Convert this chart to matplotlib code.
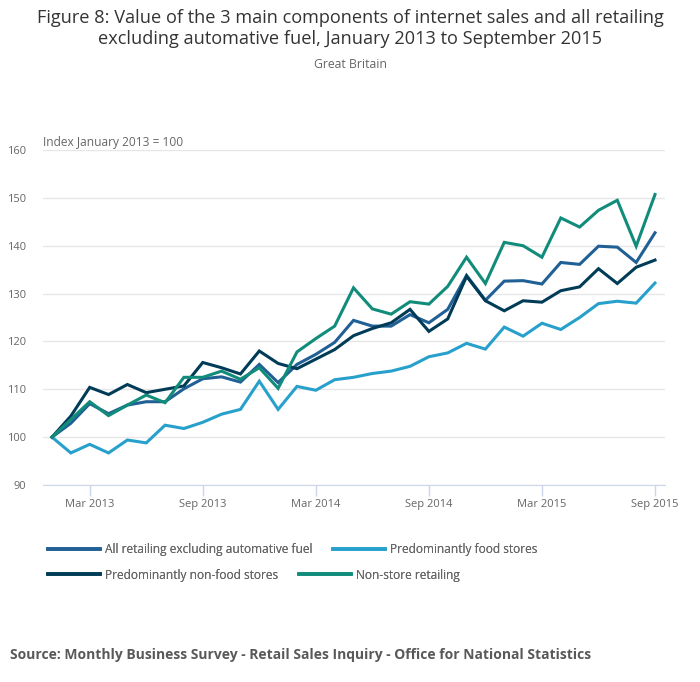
import numpy as np
import matplotlib
matplotlib.use("Agg")
import matplotlib.pyplot as plt

plt.rcParams["font.family"] = ["Open Sans", "DejaVu Sans"]

# Months from January 2013 to September 2015 (index 0..32)
months = np.arange(33)
tick_months = [2, 8, 14, 20, 26, 32]
tick_labels = ["Mar 2013", "Sep 2013", "Mar 2014", "Sep 2014", "Mar 2015", "Sep 2015"]

all_retail = [100, 102.9, 107.0, 104.9, 106.7, 107.4, 107.4, 110.1, 112.2, 112.6, 111.5,
              115.2, 111.4, 115.2, 117.3, 119.8, 124.4, 123.2, 123.2, 125.6, 123.9,
              126.7, 133.8, 128.6, 132.6, 132.7, 132.0, 136.5, 136.1, 139.9, 139.7,
              136.5, 142.7]
food = [100, 96.7, 98.5, 96.7, 99.4, 98.8, 102.5, 101.8, 103.1, 104.8, 105.8,
        111.7, 105.8, 110.6, 109.8, 112.0, 112.5, 113.3, 113.8, 114.8, 116.8,
        117.6, 119.6, 118.4, 123.0, 121.1, 123.8, 122.5, 125.0, 127.9, 128.4,
        128.0, 132.2]
non_food = [100, 104.4, 110.4, 108.9, 111.0, 109.3, 110.0, 110.7, 115.6, 114.5, 113.2,
            118.0, 115.4, 114.3, 116.3, 118.3, 121.2, 122.7, 123.9, 126.7, 122.1,
            124.7, 133.6, 128.5, 126.4, 128.5, 128.2, 130.6, 131.4, 135.2, 132.1,
            135.5, 137.0]
non_store = [100, 103.7, 107.4, 104.5, 106.7, 108.8, 107.2, 112.5, 112.5, 113.8, 112.1,
             114.5, 110.2, 117.8, 120.6, 123.2, 131.2, 126.8, 125.7, 128.3, 127.8,
             131.5, 137.6, 132.1, 140.7, 140.0, 137.6, 145.8, 143.9, 147.4, 149.5,
             139.9, 150.7]

series = [
    ("All retailing excluding automative fuel", all_retail, "#206095"),
    ("Predominantly food stores", food, "#27a0cc"),
    ("Predominantly non-food stores", non_food, "#003c57"),
    ("Non-store retailing", non_store, "#118c7b"),
]

W, H = 700, 682
fig = plt.figure(figsize=(7, 6.82), dpi=100)
ax = fig.add_axes([43 / W, 1 - 485 / H, (665 - 43) / W, (485 - 150) / H])

handles = {}
for name, vals, col in series:
    (ln,) = ax.plot(months, vals, color=col, lw=2.2, solid_joinstyle="miter", label=name)
    handles[name] = ln

ax.set_xlim(-9 / 18.84, 32 + 10 / 18.84)
ax.set_ylim(90, 160)
ax.set_yticks(np.arange(90, 161, 10))
ax.set_xticks(tick_months)
ax.set_xticklabels(tick_labels)
ax.grid(axis="y", color="#e6e6e6", lw=1)
ax.set_axisbelow(True)
for s in ["top", "right", "left"]:
    ax.spines[s].set_visible(False)
ax.spines["bottom"].set_color("#ccd6eb")
ax.spines["bottom"].set_zorder(0)
ax.tick_params(axis="x", colors="#ccd6eb", length=8, width=1, labelcolor="#666666",
               labelsize=8, pad=2)
ax.tick_params(axis="y", length=0, labelcolor="#666666", labelsize=8, pad=12)

fig.text(43 / W, 1 - 146 / H, "Index January 2013 = 100", fontsize=8.6, color="#666666",
         ha="left", va="baseline")

fig.text(0.5, 1 - 18 / H, "Figure 8: Value of the 3 main components of internet sales and all retailing",
         fontsize=13.1, color="#333333", ha="center", va="center")
fig.text(0.5, 1 - 39 / H, "excluding automative fuel, January 2013 to September 2015",
         fontsize=13.1, color="#333333", ha="center", va="center")
fig.text(0.5, 1 - 64 / H, "Great Britain", fontsize=8.8, color="#666666", ha="center", va="center")

rows = [
    ["All retailing excluding automative fuel", "Predominantly food stores"],
    ["Predominantly non-food stores", "Non-store retailing"],
]
row_y = [550, 575]
for names, yy in zip(rows, row_y):
    leg = fig.legend([handles[n] for n in names], names, loc="center left",
                     bbox_to_anchor=(48 / W, 1 - yy / H), ncol=2, frameon=False,
                     fontsize=8.6, handlelength=4.35, handletextpad=0.45,
                     columnspacing=1.7, borderpad=0, borderaxespad=0)
    for t in leg.get_texts():
        t.set_color("#666666")
    for h in leg.legend_handles:
        h.set_linewidth(2.6)
    fig.add_artist(leg)

fig.text(10 / W, 1 - 655 / H,
         "Source: Monthly Business Survey - Retail Sales Inquiry - Office for National Statistics",
         fontsize=10, fontweight="bold", color="#595959", ha="left", va="center")

fig.savefig("out.png", dpi=100)
